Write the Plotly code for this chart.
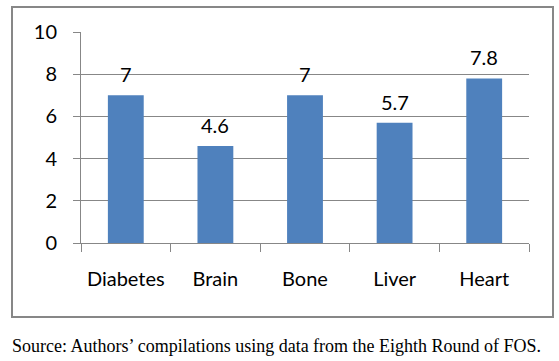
import plotly.graph_objects as go

categories = ["Diabetes", "Brain", "Bone", "Liver", "Heart"]
values = [7, 4.6, 7, 5.7, 7.8]
y_ticks = [0, 2, 4, 6, 8, 10]
source_text = "Source: Authors\u2019 compilations using data from the Eighth Round of FOS."

W, H = 559, 361
L, R, T, B = 81, 30, 32, 118
pw, ph = W - L - R, H - T - B

fig = go.Figure()
fig.add_trace(go.Bar(x=categories, y=values, marker=dict(color="#4F81BD", line=dict(width=0)),
                     width=0.4, hoverinfo="skip"))

for c, v in zip(categories, values):
    fig.add_annotation(x=c, y=v, text=str(v), showarrow=False, yshift=21,
                       font=dict(family="Lato", size=20, color="#000000"),
                       xref="x", yref="y")

grid = "#878787"
fig.update_layout(
    width=W, height=H,
    margin=dict(l=L, r=R, t=T, b=B, pad=0),
    paper_bgcolor="white", plot_bgcolor="white",
    showlegend=False,
    font=dict(family="Lato", size=20, color="#000000"),
    bargap=0.6,
    xaxis=dict(type="category", showline=True, linecolor=grid, linewidth=1,
               ticks="outside", ticklen=8, tickcolor=grid, tickwidth=1,
               tickson="boundaries", showgrid=False, ticklabelstandoff=18,
               automargin=False, tickfont=dict(family="Lato", size=20)),
    yaxis=dict(range=[0, 10], tickvals=y_ticks, showline=True, linecolor=grid, linewidth=1,
               ticks="outside", ticklen=7, tickcolor=grid, tickwidth=1,
               showgrid=True, gridcolor=grid, gridwidth=1, zeroline=False,
               automargin=False, ticklabelstandoff=12, tickfont=dict(family="Lato", size=20)),
)

# outer chart border
x0 = (12 - L) / pw
x1 = (553 - L) / pw
y0 = (T + ph - 317) / ph
y1 = (T + ph - 7) / ph
fig.add_shape(type="rect", xref="paper", yref="paper", x0=x0, x1=x1, y0=y0, y1=y1,
              line=dict(color="#878787", width=2), layer="above")

fig.add_annotation(text=source_text, xref="paper", yref="paper",
                   x=(10 - L) / pw, y=(T + ph - 346) / ph, xanchor="left", yanchor="middle",
                   showarrow=False, font=dict(family="Liberation Serif", size=18, color="#000000"))

fig.write_html("out.html", config={"displayModeBar": False},
               post_script="document.body.style.margin='0';document.body.style.padding='0';")
